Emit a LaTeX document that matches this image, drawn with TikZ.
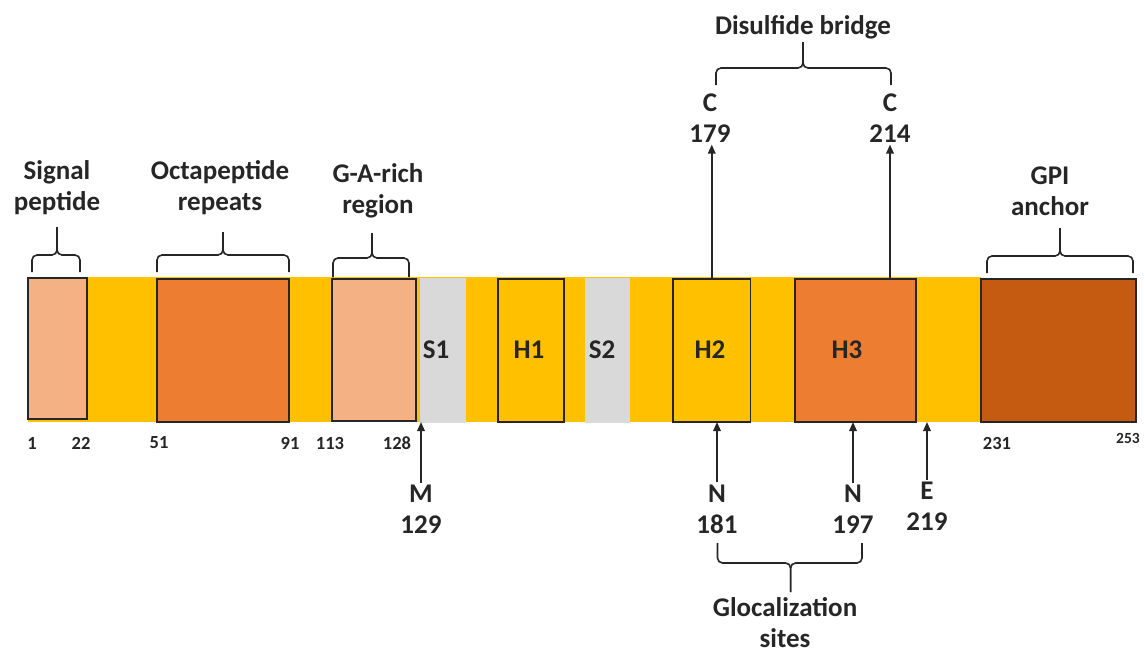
\documentclass[tikz,border=0pt]{standalone}
\usepackage{fontspec}
\setmainfont{Carlito}
\usetikzlibrary{arrows.meta}
\definecolor{band}{HTML}{FFC000}
\definecolor{light}{HTML}{F4B183}
\definecolor{mid}{HTML}{ED7D31}
\definecolor{dark}{HTML}{C55A11}
\definecolor{grey}{HTML}{D9D9D9}
\definecolor{edge}{HTML}{262626}
\begin{document}
\begin{tikzpicture}[x=1pt,y=-1pt,
  lbl/.style={font=\fontsize{27}{31}\selectfont\bfseries, align=center, inner sep=2pt, text=edge},
  num/.style={font=\fontsize{18.5}{20}\selectfont\bfseries, inner sep=0pt, text=edge},
  blk/.style={anchor=north west, inner sep=0pt, outer sep=0pt},
  dom/.style={blk, draw=edge, line width=1.8pt},
  brace/.style={draw=edge, line width=1.6pt, rounded corners=5pt},
  arr/.style={draw=edge, line width=1.7pt, -{Triangle[length=9pt,width=7.5pt]}}]
\useasboundingbox (0,0) rectangle (1145,653);
% band
\node[blk, fill=band, minimum width=953pt, minimum height=145pt] (bar) at (28,277) {};
% domains
\node[dom, fill=light, minimum width=59pt, minimum height=141pt] (sig) at (28,278) {};
\node[dom, fill=mid, minimum width=132pt, minimum height=143pt] (oct) at (157,279) {};
\node[dom, fill=light, minimum width=84pt, minimum height=142pt] (ga) at (332,279) {};
\node[blk, fill=grey, minimum width=46pt, minimum height=145pt] (s1) at (420,278) {};
\node[dom, fill=band, minimum width=66pt, minimum height=143pt] (h1) at (498,279) {};
\node[blk, fill=grey, minimum width=45pt, minimum height=145pt] (s2) at (585,278) {};
\node[dom, fill=band, minimum width=77.5pt, minimum height=143pt] (h2) at (673,279) {};
\node[dom, fill=mid, minimum width=121pt, minimum height=143pt] (h3) at (795,279) {};
\node[dom, fill=dark, minimum width=155pt, minimum height=143pt] (gpi) at (981,279) {};
% domain texts
\node[lbl] (ts1) at (436,350) {S1};
\node[lbl] (th1) at (529,350) {H1};
\node[lbl] (ts2) at (602,350) {S2};
\node[lbl] (th2) at (710,350) {H2};
\node[lbl] (th3) at (847,350) {H3};
% top labels
\node[lbl] (lsig) at (57,188) {Signal\\peptide};
\node[lbl] (loct) at (220,188) {Octapeptide\\repeats};
\node[lbl] (lga) at (378,191) {G-A-rich\\region};
\node[lbl] (lgpi) at (1050,191) {GPI\\anchor};
\node[lbl] (ldis) at (803,27) {Disulfide bridge};
\node[lbl] (c179) at (710,118) {C\\179};
\node[lbl] (c214) at (890,118) {C\\214};
% bottom labels
\node[lbl] (m129) at (421,509) {M\\129};
\node[lbl] (n181) at (717,509) {N\\181};
\node[lbl] (n197) at (853,509) {N\\197};
\node[lbl] (e219) at (927,506) {E\\219};
\node[lbl, inner sep=0pt] (lglo) at (785,623) {Glocalization\\sites};
% numbers
\node[num] (p1) at (32,443) {1};
\node[num] (p22) at (81,443) {22};
\node[num] (p51) at (159,443) {51};
\node[num] (p91) at (290,443) {91};
\node[num] (p113) at (330,443) {113};
\node[num] (p128) at (397,443) {128};
\node[num] (p231) at (997,443) {231};
\node[num, font=\fontsize{15.5}{17}\selectfont\bfseries] (p253) at (1128,438) {253};
% braces
\draw[brace] (32,272) -- (32,255) -- (57,255) -- (57,227);
\draw[brace] (80,272) -- (80,255) -- (57,255) -- (57,227);
\draw[brace] (157,272) -- (157,255) -- (223,255) -- (223,232);
\draw[brace] (289,272) -- (289,255) -- (223,255) -- (223,232);
\draw[brace] (333,277) -- (333,258) -- (372,258) -- (372,233);
\draw[brace] (409,277) -- (409,258) -- (372,258) -- (372,233);
\draw[brace] (987,273) -- (987,256) -- (1060,256) -- (1060,228);
\draw[brace] (1133,273) -- (1133,256) -- (1060,256) -- (1060,228);
\draw[brace] (716,85) -- (716,68) -- (803,68) -- (803,42);
\draw[brace] (891,85) -- (891,68) -- (803,68) -- (803,42);
\draw[brace] (717.5,543) -- (717.5,563) -- (790.6,563) -- (790.6,592);
\draw[brace] (862,543) -- (862,563) -- (790.6,563) -- (790.6,592);
% arrows
\draw[arr] (h2.north) -- (h2.north |- c179.south);
\draw[arr] (c214.south |- h3.north) -- (c214.south);
\draw[arr] (m129.north) -- (m129.north |- bar.south);
\draw[arr] (n181.north) -- (n181.north |- h2.south);
\draw[arr] (n197.north) -- (n197.north |- h3.south);
\draw[arr] (e219.north) -- (e219.north |- bar.south);
\end{tikzpicture}
\end{document}
